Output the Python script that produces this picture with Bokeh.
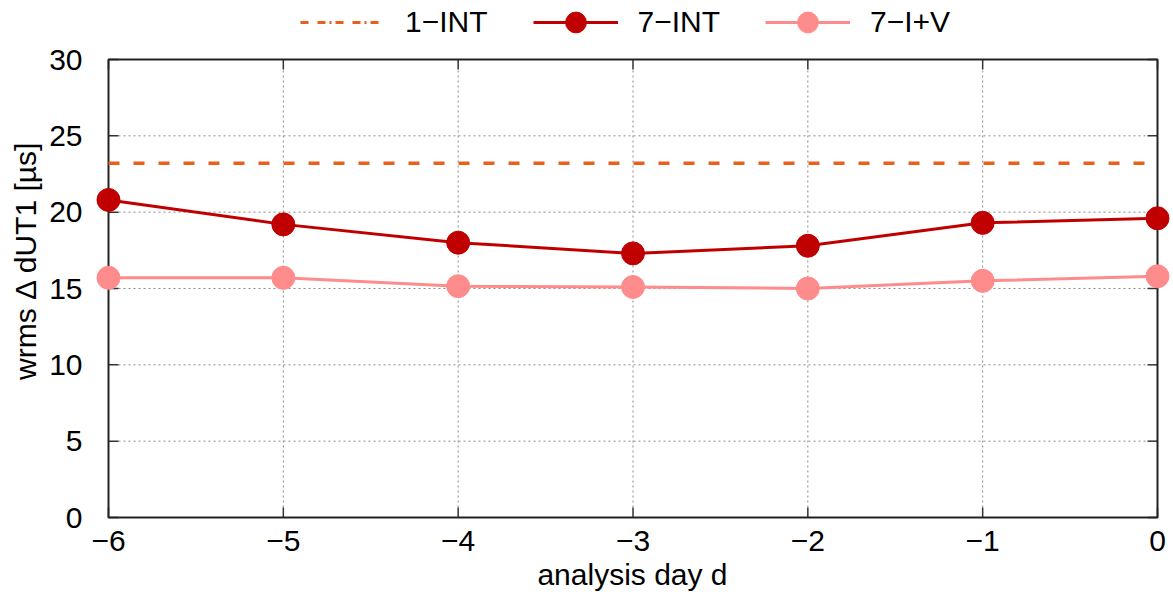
from bokeh.plotting import figure
from bokeh.models import Range1d, Legend, LegendItem, FixedTicker
from bokeh.embed import file_html
from bokeh.resources import INLINE

# ---- data ----
days = [-6, -5, -4, -3, -2, -1, 0]
int7 = [20.8, 19.2, 18.0, 17.3, 17.8, 19.3, 19.6]
iv7 = [15.7, 15.7, 15.15, 15.1, 15.0, 15.5, 15.8]
int1 = 23.2
x_ticks = [-6, -5, -4, -3, -2, -1, 0]
y_ticks = [0, 5, 10, 15, 20, 25, 30]
x_min, x_max = -6, 0
y_min, y_max = 0, 30

# ---- style / layout ----
FONT = "Liberation Sans"
FS = "30px"
ORANGE = "#e8601c"
DARK = "#c00000"
PINK = "#ff8c8c"
GRID = "#8a8a8a"

W, H = 1170, 598
BOX_L, BOX_R, BOX_T, BOX_B = 108, 1157, 59, 517   # box in figure pixels
PAD_L, PAD_R = 14, 13
FRAME_L, FRAME_R = BOX_L - PAD_L, BOX_R + PAD_R
FRAME_T, FRAME_B = 0, 520
ppx = (BOX_R - BOX_L) / (x_max - x_min)
ppy = (BOX_B - BOX_T) / (y_max - y_min)
TICK = 10

xr = Range1d(x_min - PAD_L / ppx, x_max + PAD_R / ppx)
yr = Range1d(y_min - (FRAME_B - BOX_B) / ppy, y_max + (BOX_T - FRAME_T) / ppy)

p = figure(width=W, height=H, output_backend="svg", toolbar_location=None,
           x_range=xr, y_range=yr,
           min_border_left=FRAME_L, min_border_right=W - FRAME_R,
           min_border_top=FRAME_T, min_border_bottom=H - FRAME_B)
p.outline_line_color = None
p.xgrid.visible = False
p.ygrid.visible = False

for ax in (p.xaxis[0], p.yaxis[0]):
    ax.major_label_text_font = FONT
    ax.major_label_text_font_size = FS
    ax.major_label_text_color = "black"
    ax.axis_label_text_font = FONT
    ax.axis_label_text_font_size = FS
    ax.axis_label_text_font_style = "normal"
    ax.axis_label_text_color = "black"
    ax.major_tick_line_color = None
    ax.minor_tick_line_color = None
    ax.axis_line_color = None

p.xaxis.ticker = FixedTicker(ticks=x_ticks)
p.yaxis.ticker = FixedTicker(ticks=y_ticks)
p.xaxis.major_label_overrides = {t: ("\u2212%d" % -t if t < 0 else str(t)) for t in x_ticks}
p.xaxis.axis_label = "analysis day d"
p.yaxis.axis_label = "wrms \u0394 dUT1 [\u00b5s]"
p.xaxis.major_label_standoff = 4
p.xaxis.axis_label_standoff = 4
p.yaxis.major_label_standoff = 6
p.yaxis.axis_label_standoff = 4

tx = TICK / ppx
ty = TICK / ppy

# grid lines (dotted), between tick marks
gx = [t for t in x_ticks if x_min < t < x_max]
gy = [t for t in y_ticks if y_min < t < y_max]
p.segment(x0=gx, y0=[y_min + ty] * len(gx), x1=gx, y1=[y_max - ty] * len(gx),
          line_color=GRID, line_width=1, line_dash="2 3")
p.segment(x0=[x_min + tx] * len(gy), y0=gy, x1=[x_max - tx] * len(gy), y1=gy,
          line_color=GRID, line_width=1, line_dash="2 3")

# tick marks on all four sides
TC = "#333333"
p.segment(x0=x_ticks, y0=[y_min] * len(x_ticks), x1=x_ticks, y1=[y_min + ty] * len(x_ticks),
          line_color=TC, line_width=1.5)
p.segment(x0=x_ticks, y0=[y_max] * len(x_ticks), x1=x_ticks, y1=[y_max - ty] * len(x_ticks),
          line_color=TC, line_width=1.5)
p.segment(x0=[x_min] * len(y_ticks), y0=y_ticks, x1=[x_min + tx] * len(y_ticks), y1=y_ticks,
          line_color=TC, line_width=1.5)
p.segment(x0=[x_max] * len(y_ticks), y0=y_ticks, x1=[x_max - tx] * len(y_ticks), y1=y_ticks,
          line_color=TC, line_width=1.5)

# box
p.quad(left=[x_min], right=[x_max], bottom=[y_min], top=[y_max],
       fill_alpha=0, line_color="#222222", line_width=2)

# 1-INT reference line
p.line(x=[x_min, x_max], y=[int1, int1], line_color=ORANGE, line_width=3.5, line_dash="11 14")

l2 = p.line(days, int7, line_color=DARK, line_width=3)
c2 = p.scatter(days, int7, size=23, fill_color=DARK, line_color=DARK)
l3 = p.line(days, iv7, line_color=PINK, line_width=3)
c3 = p.scatter(days, iv7, size=23, fill_color=PINK, line_color=PINK)

# legend-only sample for the dash-dot pattern
dummy = p.line(x=[x_min - 10, x_min - 9], y=[y_min - 10, y_min - 10],
               line_color=ORANGE, line_width=3, line_dash="8 9 8 4 2 4")

legend = Legend(items=[
    LegendItem(label="1\u2212INT", renderers=[dummy]),
    LegendItem(label="7\u2212INT", renderers=[l2, c2]),
    LegendItem(label="7\u2212I+V", renderers=[l3, c3]),
], orientation="horizontal", location=(206, 472))
legend.label_text_font = FONT
legend.label_text_font_size = FS
legend.label_text_color = "black"
legend.glyph_width = 85
legend.glyph_height = 52
legend.spacing = 45
legend.label_standoff = 20
legend.border_line_alpha = 0
legend.background_fill_alpha = 0
legend.padding = 0
legend.margin = 0
p.add_layout(legend)

open("out.html", "w").write(file_html(p, INLINE))
